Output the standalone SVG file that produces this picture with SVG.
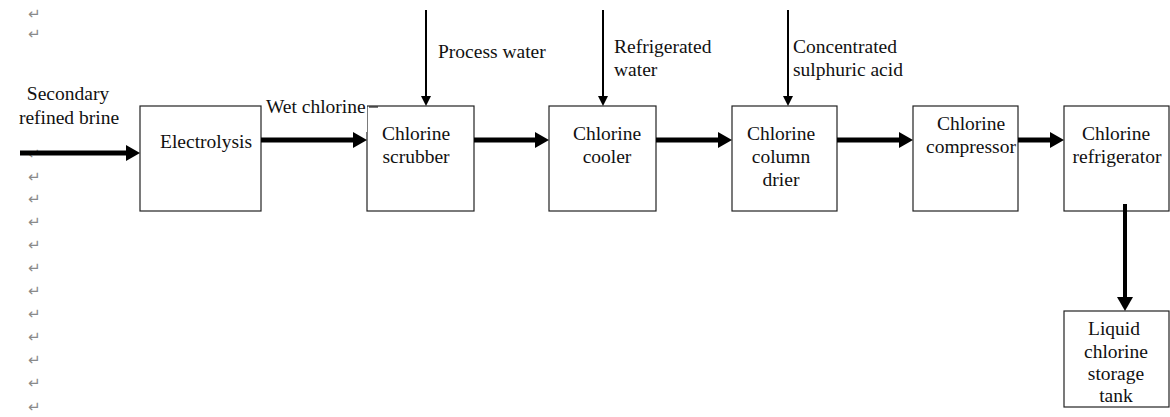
<svg xmlns="http://www.w3.org/2000/svg" width="1170" height="417" viewBox="0 0 1170 417">
  <style>
    .box { fill: #fff; stroke: #222; stroke-width: 1.2; }
    .lbl { font-family: 'Liberation Serif', Tinos, 'Times New Roman', 'DejaVu Serif', serif; font-size: 19.5px; fill: #111; }
    .mid { text-anchor: middle; }
    .flow { stroke: #000; stroke-width: 5; fill: none; }
    .feed { stroke: #000; stroke-width: 2; fill: none; }
    .drop { stroke: #000; stroke-width: 4; fill: none; }
    .para { font-family: 'DejaVu Sans', sans-serif; font-size: 15px; fill: #8a8a8a; }
  </style>
  <defs>
    <marker id="headBig" viewBox="0 0 14 16" refX="0" refY="8" markerUnits="userSpaceOnUse" markerWidth="14" markerHeight="16" orient="auto">
      <path d="M0,0 L14,8 L0,16 Z" fill="#000"/>
    </marker>
    <marker id="headSmall" viewBox="0 0 10 10" refX="0" refY="5" markerUnits="userSpaceOnUse" markerWidth="10" markerHeight="10" orient="auto">
      <path d="M0,0 L10,5 L0,10 Z" fill="#000"/>
    </marker>
  </defs>

  <rect width="1170" height="417" fill="#fff"/>

  <!-- paragraph marks down the left margin -->
  <g id="margin-marks" class="para">
    <text x="28" y="19">↵</text>
    <text x="28" y="39">↵</text>
    <text x="28" y="159">↵</text>
    <text x="28" y="182">↵</text>
    <text x="28" y="204">↵</text>
    <text x="28" y="227">↵</text>
    <text x="28" y="250">↵</text>
    <text x="28" y="273">↵</text>
    <text x="28" y="296">↵</text>
    <text x="28" y="319">↵</text>
    <text x="28" y="342">↵</text>
    <text x="28" y="365">↵</text>
    <text x="28" y="388">↵</text>
    <text x="28" y="412">↵</text>
  </g>

  <!-- process units -->
  <g id="electrolysis">
    <rect class="box" x="140" y="106" width="121" height="105"/>
    <text class="lbl" x="160" y="148">Electrolysis</text>
  </g>
  <g id="scrubber">
    <rect class="box" x="367" y="106" width="107" height="105"/>
    <text class="lbl mid" x="416" y="140">Chlorine</text>
    <text class="lbl mid" x="416" y="163">scrubber</text>
  </g>
  <g id="cooler">
    <rect class="box" x="549" y="106" width="107" height="105"/>
    <text class="lbl mid" x="607" y="140">Chlorine</text>
    <text class="lbl mid" x="607" y="163">cooler</text>
  </g>
  <g id="drier">
    <rect class="box" x="732" y="106" width="105" height="105"/>
    <text class="lbl mid" x="781" y="140">Chlorine</text>
    <text class="lbl mid" x="781" y="163">column</text>
    <text class="lbl mid" x="781" y="186">drier</text>
  </g>
  <g id="compressor">
    <rect class="box" x="913" y="106" width="105" height="105"/>
    <text class="lbl mid" x="971" y="130">Chlorine</text>
    <text class="lbl mid" x="971" y="153">compressor</text>
  </g>
  <g id="refrigerator">
    <rect class="box" x="1064" y="106" width="105" height="105"/>
    <text class="lbl mid" x="1116" y="140">Chlorine</text>
    <text class="lbl mid" x="1117" y="163">refrigerator</text>
  </g>
  <g id="storage-tank">
    <rect class="box" x="1064" y="311" width="105" height="96"/>
    <text class="lbl mid" x="1114" y="335">Liquid</text>
    <text class="lbl mid" x="1116" y="358">chlorine</text>
    <text class="lbl mid" x="1116" y="380">storage</text>
    <text class="lbl mid" x="1116" y="402">tank</text>
  </g>

  <!-- flows -->
  <g id="connectors">
    <line class="flow" x1="20" y1="153" x2="126" y2="153" marker-end="url(#headBig)"/>
    <line class="flow" x1="261" y1="140" x2="353" y2="140" marker-end="url(#headBig)"/>
    <line class="flow" x1="474" y1="140" x2="535" y2="140" marker-end="url(#headBig)"/>
    <line class="flow" x1="656" y1="140" x2="718" y2="140" marker-end="url(#headBig)"/>
    <line class="flow" x1="837" y1="140" x2="899" y2="140" marker-end="url(#headBig)"/>
    <line class="flow" x1="1018" y1="140" x2="1050" y2="140" marker-end="url(#headBig)"/>
    <line class="drop" x1="1125" y1="204" x2="1125" y2="297" marker-end="url(#headBig)"/>
    <line class="feed" x1="426" y1="10" x2="426" y2="96" marker-end="url(#headSmall)"/>
    <line class="feed" x1="603" y1="10" x2="603" y2="96" marker-end="url(#headSmall)"/>
    <line class="feed" x1="788" y1="10" x2="788" y2="96" marker-end="url(#headSmall)"/>
  </g>

  <!-- stream labels -->
  <g id="stream-labels">
    <text class="lbl mid" x="68" y="100">Secondary</text>
    <text class="lbl mid" x="69" y="124">refined brine</text>
    <rect x="263" y="98" width="104" height="34" fill="#fff"/>
    <text class="lbl" x="266" y="113">Wet chlorine</text>
    <line x1="369" y1="107" x2="378" y2="107" stroke="#222" stroke-width="1.2"/>
    <text class="lbl" x="438" y="58">Process water</text>
    <text class="lbl" x="614" y="53">Refrigerated</text>
    <text class="lbl" x="614" y="76">water</text>
    <text class="lbl" x="793" y="53">Concentrated</text>
    <text class="lbl" x="793" y="76">sulphuric acid</text>
  </g>
</svg>
